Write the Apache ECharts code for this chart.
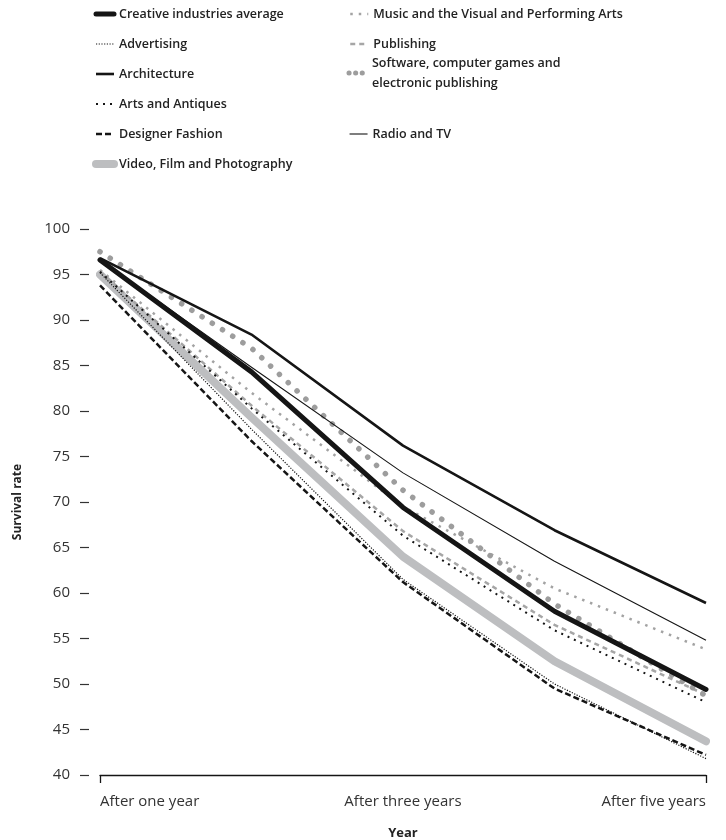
<!DOCTYPE html>
<html>
<head>
<meta charset="utf-8">
<script src="https://cdn.jsdelivr.net/npm/echarts@6/dist/echarts.min.js"></script>
<style>
html,body{margin:0;padding:0;background:#fff;}
#chart{width:726px;height:840px;}
</style>
</head>
<body>
<div id="chart"></div>
<script>
// ---- data ----
const categories = ['After one year', 'After two years', 'After three years', 'After four years', 'After five years'];
const yTicks = [40, 45, 50, 55, 60, 65, 70, 75, 80, 85, 90, 95, 100];

const creativeAverage = [96.6, 84.3, 69.4, 58.0, 49.4];
const advertising     = [95.2, 78.0, 61.5, 50.0, 41.8];
const architecture    = [96.8, 88.4, 76.2, 66.9, 58.9];
const artsAntiques    = [95.3, 80.3, 66.3, 55.9, 48.0];
const designerFashion = [93.8, 76.7, 61.2, 49.5, 42.2];
const videoFilmPhoto  = [95.0, 79.3, 64.0, 52.5, 43.7];
const musicArts       = [95.5, 82.0, 69.5, 60.5, 53.8];
const publishing      = [95.3, 80.6, 66.8, 56.5, 48.8];
const software        = [97.5, 86.9, 71.3, 58.8, 48.7];
const radioTV         = [96.6, 84.8, 73.2, 63.5, 54.8];

const N_AVG = 'Creative industries average';
const N_ADV = 'Advertising';
const N_ARC = 'Architecture';
const N_ART = 'Arts and Antiques';
const N_DES = 'Designer Fashion';
const N_VID = 'Video, Film and Photography';
const N_MUS = 'Music and the Visual and Performing Arts';
const N_PUB = 'Publishing';
const N_SOF = 'Software, computer games and\nelectronic publishing';
const N_RAD = 'Radio and TV';

const FONT = '"Open Sans", "Noto Sans", sans-serif';
const BLACK = '#151515';
const TEXT = '#333333';

function line(name, data, color, width, type, cap, z) {
  return {
    name: name, type: 'line', data: data, symbol: 'none', z: z || 2,
    lineStyle: { color: color, width: width, type: type, cap: cap || 'butt', join: 'round' },
    itemStyle: { color: color },
    emphasis: { disabled: true }
  };
}

const legendText = { fontFamily: FONT, fontSize: 12.5, fontWeight: 600, color: '#222', lineHeight: 20 };
const legendLine = { width: 'inherit', type: 'inherit', cap: 'inherit' };
const legendBase = {
  orient: 'vertical', padding: 0, itemGap: 10, itemWidth: 18, itemHeight: 14,
  itemStyle: { opacity: 0 }, lineStyle: legendLine, selectedMode: false
};

const option = {
  animation: false,
  backgroundColor: '#ffffff',
  textStyle: { fontFamily: FONT },
  legend: [
    Object.assign({}, legendBase, {
      left: 92, top: 4, textStyle: legendText,
      data: [N_AVG, N_ADV, N_ARC, N_ART, N_DES, N_VID]
    }),
    Object.assign({}, legendBase, {
      left: 349, top: 4, textStyle: legendText,
      data: [N_MUS, N_PUB]
    }),
    Object.assign({}, legendBase, {
      left: 346.5, top: 43,
      textStyle: Object.assign({}, legendText, { padding: [20, 0, 0, 0] }),
      data: [{ name: N_SOF, lineStyle: { type: [0.1, 6.5], width: 5, cap: 'round' } }]
    }),
    Object.assign({}, legendBase, {
      left: 349, top: 124, textStyle: legendText,
      data: [N_RAD]
    })
  ],
  grid: { left: 100, right: 20, top: 229, bottom: 65, containLabel: false, outerBoundsMode: 'none' },
  xAxis: {
    type: 'category', data: categories, boundaryGap: false,
    name: 'Year', nameLocation: 'middle', nameGap: 52,
    nameTextStyle: { fontFamily: FONT, fontSize: 13, fontWeight: 'bold', color: '#222' },
    axisLine: { show: true, lineStyle: { color: BLACK, width: 1.3 } },
    axisTick: { show: true, length: 8, inside: false, interval: function (i) { return i === 0 || i === categories.length - 1; }, lineStyle: { color: BLACK, width: 1.3 } },
    axisLabel: { interval: 1, margin: 19, fontFamily: FONT, fontSize: 15, color: TEXT, alignMinLabel: 'left', alignMaxLabel: 'right' },
    splitLine: { show: false }
  },
  yAxis: {
    type: 'value', min: yTicks[0], max: yTicks[yTicks.length - 1], interval: 5, offset: 11,
    name: 'Survival rate', nameLocation: 'middle', nameRotate: 90, nameGap: 65,
    nameTextStyle: { fontFamily: FONT, fontSize: 12, fontWeight: 'bold', color: '#222' },
    axisLine: { show: false },
    axisTick: { show: true, length: 9, lineStyle: { color: '#333', width: 1.2 } },
    axisLabel: { margin: 19, fontFamily: FONT, fontSize: 15, color: TEXT },
    splitLine: { show: false }
  },
  series: [
    line(N_VID, videoFilmPhoto, '#bdbec0', 8, 'solid', 'round', 1),
    line(N_MUS, musicArts, '#a3a3a3', 2.5, [2.5, 6]),
    line(N_PUB, publishing, '#a6a6a6', 2.5, [5, 4]),
    line(N_SOF, software, '#9d9d9d', 5.5, [0.1, 12], 'round'),
    line(N_ADV, advertising, BLACK, 1.2, [1.2, 1.5]),
    line(N_ART, artsAntiques, BLACK, 2, [2, 5]),
    line(N_DES, designerFashion, BLACK, 2.5, [6, 3]),
    line(N_RAD, radioTV, BLACK, 1.1, 'solid'),
    line(N_ARC, architecture, BLACK, 2.6, 'solid'),
    line(N_AVG, creativeAverage, BLACK, 5, 'solid', 'round', 3)
  ]
};

const chart = echarts.init(document.getElementById('chart'), null, { renderer: 'canvas' });
chart.setOption(option);
</script>
</body>
</html>
